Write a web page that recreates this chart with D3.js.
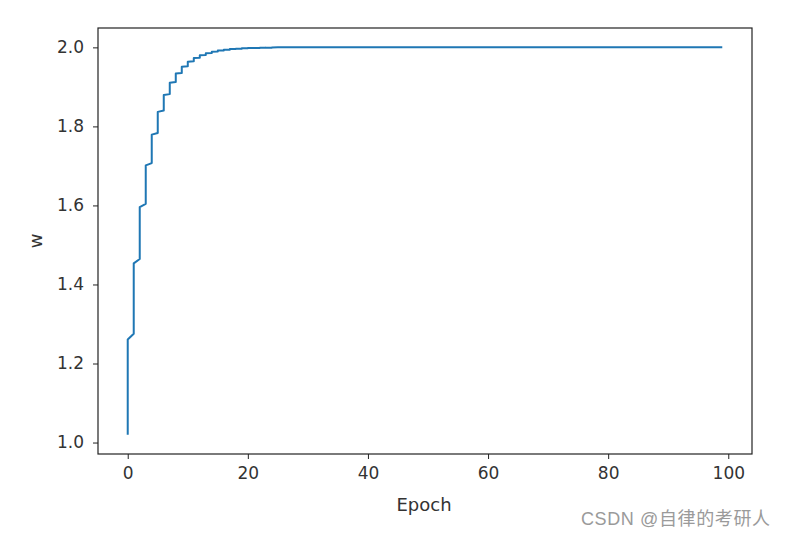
<!DOCTYPE html>
<html>
<head>
<meta charset="utf-8">
<script src="https://cdn.jsdelivr.net/npm/d3@7"></script>
<style>
body { margin: 0; background: #fff; }
text { font-family: "DejaVu Sans", sans-serif; }
</style>
</head>
<body>
<svg width="787" height="536"></svg>
<script>
// w after each of the three updates within an epoch
var wByEpoch = [
  [1.0200, 1.0984, 1.2607], [1.2755, 1.3334, 1.4534], [1.4644, 1.5072, 1.5959],
  [1.6040, 1.6357, 1.7012], [1.7072, 1.7306, 1.7791], [1.7835, 1.8009, 1.8367],
  [1.8400, 1.8528, 1.8793], [1.8817, 1.8912, 1.9107], [1.9125, 1.9195, 1.9340],
  [1.9353, 1.9405, 1.9512], [1.9522, 1.9560, 1.9639], [1.9647, 1.9675, 1.9733],
  [1.9739, 1.9760, 1.9803], [1.9807, 1.9822, 1.9854], [1.9857, 1.9869, 1.9892],
  [1.9894, 1.9903, 1.9920], [1.9922, 1.9928, 1.9941], [1.9942, 1.9947, 1.9956],
  [1.9957, 1.9961, 1.9968], [1.9968, 1.9971, 1.9976], [1.9977, 1.9979, 1.9982],
  [1.9983, 1.9984, 1.9987], [1.9987, 1.9988, 1.9990], [1.9991, 1.9991, 1.9993],
  [1.9993, 1.9994, 1.9995],
  [2,2,2],[2,2,2],[2,2,2],[2,2,2],[2,2,2],[2,2,2],[2,2,2],[2,2,2],[2,2,2],[2,2,2],
  [2,2,2],[2,2,2],[2,2,2],[2,2,2],[2,2,2],[2,2,2],[2,2,2],[2,2,2],[2,2,2],[2,2,2],
  [2,2,2],[2,2,2],[2,2,2],[2,2,2],[2,2,2],[2,2,2],[2,2,2],[2,2,2],[2,2,2],[2,2,2],
  [2,2,2],[2,2,2],[2,2,2],[2,2,2],[2,2,2],[2,2,2],[2,2,2],[2,2,2],[2,2,2],[2,2,2],
  [2,2,2],[2,2,2],[2,2,2],[2,2,2],[2,2,2],[2,2,2],[2,2,2],[2,2,2],[2,2,2],[2,2,2],
  [2,2,2],[2,2,2],[2,2,2],[2,2,2],[2,2,2],[2,2,2],[2,2,2],[2,2,2],[2,2,2],[2,2,2],
  [2,2,2],[2,2,2],[2,2,2],[2,2,2],[2,2,2],[2,2,2],[2,2,2],[2,2,2],[2,2,2],[2,2,2],
  [2,2,2],[2,2,2],[2,2,2],[2,2,2],[2,2,2]
];
var xTicks = [0, 20, 40, 60, 80, 100];
var yTicks = [1.0, 1.2, 1.4, 1.6, 1.8, 2.0];

var svg = d3.select("svg"),
    mLeft = 98, mRight = 752, mTop = 28, mBottom = 454;

// flatten: every update is plotted at its epoch index
var points = [];
wByEpoch.forEach(function(ws, e) {
  ws.forEach(function(w) { points.push({ epoch: e, w: w }); });
});

var x = d3.scaleLinear().domain([-4.95, 103.95]).range([mLeft, mRight]);
var y = d3.scaleLinear().domain([0.971, 2.049]).range([mBottom, mTop]);

var line = d3.line()
  .x(function(d) { return x(d.epoch); })
  .y(function(d) { return y(d.w); });

svg.append("path")
  .datum(points)
  .attr("fill", "none")
  .attr("stroke", "#1f77b4")
  .attr("stroke-width", 2)
  .attr("stroke-linejoin", "round")
  .attr("d", line);

var xAxis = svg.append("g")
  .attr("transform", "translate(0," + mBottom + ")")
  .call(d3.axisBottom(x).tickValues(xTicks).tickSize(5).tickPadding(8).tickFormat(d3.format("d")));
var yAxis = svg.append("g")
  .attr("transform", "translate(" + mLeft + ",0)")
  .call(d3.axisLeft(y).tickValues(yTicks).tickSize(5).tickPadding(9).tickFormat(d3.format(".1f")));

[xAxis, yAxis].forEach(function(a) {
  a.select(".domain").remove();
  a.selectAll("line").attr("stroke", "#222").attr("stroke-width", 1);
  a.selectAll("text").attr("fill", "#333").style("font-size", "17px")
    .style("font-family", "DejaVu Sans, sans-serif");
});

// frame
svg.append("rect")
  .attr("x", mLeft).attr("y", mTop)
  .attr("width", mRight - mLeft).attr("height", mBottom - mTop)
  .attr("fill", "none").attr("stroke", "#222").attr("stroke-width", 1.2);

svg.append("text")
  .attr("x", 424).attr("y", 511)
  .attr("text-anchor", "middle")
  .attr("fill", "#333")
  .style("font-size", "18px")
  .text("Epoch");

svg.append("text")
  .attr("transform", "translate(42," + (mTop + mBottom) / 2 + ") rotate(-90)")
  .attr("text-anchor", "middle")
  .attr("fill", "#333")
  .style("font-size", "18px")
  .text("w");

svg.append("text")
  .attr("x", 581).attr("y", 525)
  .attr("text-anchor", "start")
  .attr("fill", "#9a9a9a")
  .attr("textLength", 189)
  .style("font-size", "18px")
  .style("font-family", "Liberation Sans, Noto Sans CJK SC, sans-serif")
  .text("CSDN @自律的考研人");
</script>
</body>
</html>
